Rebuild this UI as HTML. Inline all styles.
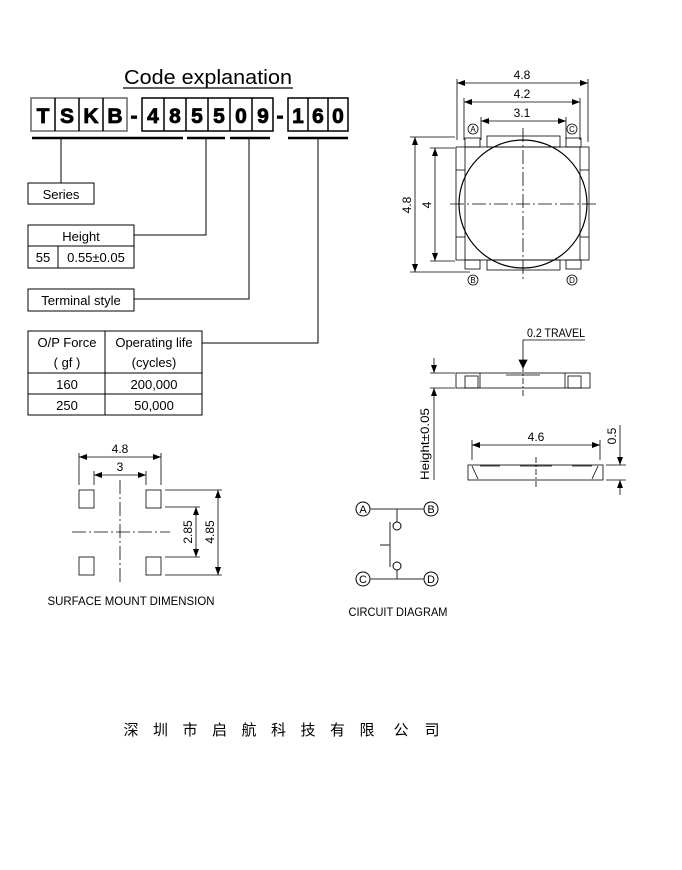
<!DOCTYPE html>
<html><head><meta charset="utf-8"><style>
html,body{margin:0;padding:0;background:#fff;}
svg{display:block;}
text{font-family:"Liberation Sans",sans-serif;fill:#000;}
.b{font-weight:900;font-family:"Liberation Sans",sans-serif;}
</style></head><body>
<svg width="682" height="870" viewBox="0 0 682 870" xmlns="http://www.w3.org/2000/svg">
<defs>
<marker id="ar" markerWidth="8" markerHeight="6" refX="8" refY="3" orient="auto-start-reverse" markerUnits="userSpaceOnUse"><path d="M0,0 L8,3 L0,6 z" fill="#000"/></marker>
</defs>
<text x="208" y="84" font-size="20" text-anchor="middle" textLength="168" lengthAdjust="spacingAndGlyphs">Code explanation</text>
<line x1="123" y1="88" x2="293" y2="88" stroke="#000" stroke-width="1.3"/>
<g stroke="#000" stroke-width="1.5" fill="none">
<rect x="31" y="98" width="96" height="33" stroke="#666"/>
<line x1="55" y1="98" x2="55" y2="131"/><line x1="79" y1="98" x2="79" y2="131"/><line x1="103" y1="98" x2="103" y2="131"/>
<rect x="142" y="98" width="131" height="33"/>
<line x1="164" y1="98" x2="164" y2="131"/><line x1="186" y1="98" x2="186" y2="131"/><line x1="208" y1="98" x2="208" y2="131"/><line x1="230" y1="98" x2="230" y2="131"/><line x1="252" y1="98" x2="252" y2="131"/>
<rect x="288" y="98" width="60" height="33"/>
<line x1="308" y1="98" x2="308" y2="131"/><line x1="328" y1="98" x2="328" y2="131"/>
</g>
<g class="b" font-size="21" text-anchor="middle" stroke="#000" stroke-width="0.8">
<text class="b" x="43" y="123">T</text><text class="b" x="67" y="123">S</text><text class="b" x="91" y="123">K</text><text class="b" x="115" y="123">B</text>
<text class="b" x="134" y="123">-</text>
<text class="b" x="153" y="123">4</text><text class="b" x="175" y="123">8</text><text class="b" x="197" y="123">5</text><text class="b" x="219" y="123">5</text><text class="b" x="241" y="123">0</text><text class="b" x="263" y="123">9</text>
<text class="b" x="280" y="123">-</text>
<text class="b" x="298" y="123">1</text><text class="b" x="318" y="123">6</text><text class="b" x="338" y="123">0</text>
</g>
<g stroke="#000" stroke-width="2.5">
<line x1="32" y1="138" x2="183" y2="138"/><line x1="187" y1="138" x2="225" y2="138"/><line x1="230" y1="138" x2="270" y2="138"/><line x1="288" y1="138" x2="348" y2="138"/>
</g>
<g stroke="#000" stroke-width="1" fill="none">
<polyline points="61,138 61,183"/>
<rect x="28" y="183" width="66" height="21"/>
<polyline points="206,138 206,235 134,235"/>
<rect x="28" y="225" width="106" height="43"/><line x1="28" y1="246" x2="134" y2="246"/><line x1="58" y1="246" x2="58" y2="268"/>
<polyline points="249,138 249,299 134,299"/>
<rect x="28" y="289" width="106" height="22"/>
<polyline points="318,138 318,343 202,343"/>
<rect x="28" y="331" width="174" height="84"/><line x1="105" y1="331" x2="105" y2="415"/><line x1="28" y1="373" x2="202" y2="373"/><line x1="28" y1="394" x2="202" y2="394"/>
</g>
<g font-size="13">
<text x="61" y="199" text-anchor="middle">Series</text>
<text x="81" y="241" text-anchor="middle">Height</text>
<text x="43" y="262" text-anchor="middle">55</text>
<text x="96" y="262" text-anchor="middle">0.55±0.05</text>
<text x="81" y="305" text-anchor="middle">Terminal style</text>
<text x="67" y="347" text-anchor="middle">O/P Force</text>
<text x="67" y="367" text-anchor="middle">( gf )</text>
<text x="154" y="347" text-anchor="middle">Operating life</text>
<text x="154" y="367" text-anchor="middle">(cycles)</text>
<text x="67" y="389" text-anchor="middle">160</text><text x="154" y="389" text-anchor="middle">200,000</text>
<text x="67" y="410" text-anchor="middle">250</text><text x="154" y="410" text-anchor="middle">50,000</text>
</g>
<g stroke="#000" stroke-width="0.8" fill="none">
<line x1="457" y1="79" x2="457" y2="140"/><line x1="588" y1="79" x2="588" y2="142"/>
<line x1="457" y1="83" x2="588" y2="83" marker-start="url(#ar)" marker-end="url(#ar)"/>
<line x1="464" y1="98" x2="464" y2="140"/><line x1="580" y1="98" x2="580" y2="140"/>
<line x1="464" y1="102" x2="580" y2="102" marker-start="url(#ar)" marker-end="url(#ar)"/>
<line x1="481" y1="117" x2="481" y2="140"/><line x1="566" y1="117" x2="566" y2="140"/>
<line x1="481" y1="121" x2="566" y2="121" marker-start="url(#ar)" marker-end="url(#ar)"/>
<line x1="410" y1="137" x2="455" y2="137"/><line x1="410" y1="272" x2="470" y2="272"/>
<line x1="415" y1="137" x2="415" y2="272" marker-start="url(#ar)" marker-end="url(#ar)"/>
<line x1="430" y1="148" x2="455" y2="148"/><line x1="430" y1="261" x2="455" y2="261"/>
<line x1="435" y1="148" x2="435" y2="261" marker-start="url(#ar)" marker-end="url(#ar)"/>
<circle cx="473" cy="129" r="5"/><circle cx="572" cy="129" r="5"/>
<circle cx="473" cy="280" r="5"/><circle cx="572" cy="280" r="5"/>
<rect x="456" y="147" width="133" height="113"/>
<rect x="465" y="138" width="15" height="9"/><rect x="566" y="138" width="15" height="9"/>
<rect x="465" y="260" width="15" height="9"/><rect x="566" y="260" width="15" height="9"/>
<rect x="487" y="136" width="73" height="11"/><rect x="487" y="260" width="73" height="10"/>
<line x1="465" y1="147" x2="465" y2="260"/><line x1="580" y1="147" x2="580" y2="260"/>
<line x1="456" y1="170" x2="465" y2="170"/><line x1="456" y1="237" x2="465" y2="237"/>
<line x1="580" y1="170" x2="589" y2="170"/><line x1="580" y1="237" x2="589" y2="237"/>
<circle cx="523" cy="204" r="64" stroke-width="1.2"/>
<line x1="523" y1="128" x2="523" y2="282" stroke-dasharray="14,3,2,3"/>
<line x1="450" y1="204" x2="596" y2="204" stroke-dasharray="14,3,2,3"/>
</g>
<g font-size="12" text-anchor="middle">
<text x="522" y="79">4.8</text><text x="522" y="98">4.2</text><text x="522" y="117">3.1</text>
<text font-size="8" x="473" y="132">A</text><text font-size="8" x="572" y="132">C</text>
<text font-size="8" x="473" y="283">B</text><text font-size="8" x="572" y="283">D</text>
<text transform="translate(411,205) rotate(-90)">4.8</text>
<text transform="translate(431,205) rotate(-90)">4</text>
</g>
<g stroke="#000" stroke-width="0.8" fill="none">
<polyline points="585,340 523,340 523,368"/>
<path d="M519,360 L523,368 L527,360 z" fill="#000"/>
<rect x="456" y="373" width="134" height="15"/>
<rect x="465" y="376" width="13" height="12"/><rect x="568" y="376" width="13" height="12"/>
<line x1="480" y1="373" x2="480" y2="388"/><line x1="565" y1="373" x2="565" y2="388"/>
<line x1="506" y1="375" x2="540" y2="375"/>
<line x1="523" y1="366" x2="523" y2="398" stroke-dasharray="6,2,2,2"/>
<line x1="430" y1="373" x2="455" y2="373"/><line x1="430" y1="388" x2="455" y2="388"/>
<line x1="434" y1="358" x2="434" y2="373" marker-end="url(#ar)"/>
<line x1="434" y1="480" x2="434" y2="388" marker-end="url(#ar)"/>
<line x1="472" y1="440" x2="472" y2="460"/><line x1="600" y1="440" x2="600" y2="460"/>
<line x1="472" y1="445" x2="600" y2="445" marker-start="url(#ar)" marker-end="url(#ar)"/>
<rect x="468" y="465" width="135" height="15"/>
<line x1="472" y1="466" x2="478" y2="479"/><line x1="598" y1="466" x2="592" y2="479"/>
<line x1="480" y1="466" x2="500" y2="466"/><line x1="572" y1="466" x2="592" y2="466"/>
<line x1="520" y1="466" x2="552" y2="466"/>
<line x1="536" y1="457" x2="536" y2="488" stroke-dasharray="6,2,2,2"/>
<line x1="606" y1="465" x2="626" y2="465"/><line x1="606" y1="480" x2="626" y2="480"/>
<line x1="620" y1="425" x2="620" y2="465" marker-end="url(#ar)"/>
<line x1="620" y1="495" x2="620" y2="480" marker-end="url(#ar)"/>
</g>
<g font-size="12">
<text x="527" y="337" textLength="58" lengthAdjust="spacingAndGlyphs">0.2  TRAVEL</text>
<text x="536" y="441" text-anchor="middle">4.6</text>
<text transform="translate(429,444) rotate(-90)" text-anchor="middle" textLength="72" lengthAdjust="spacingAndGlyphs">Height±0.05</text>
<text transform="translate(616,436) rotate(-90)" text-anchor="middle">0.5</text>
</g>
<g stroke="#000" stroke-width="0.8" fill="none">
<line x1="79" y1="453" x2="79" y2="485"/><line x1="161" y1="453" x2="161" y2="485"/>
<line x1="79" y1="457" x2="161" y2="457" marker-start="url(#ar)" marker-end="url(#ar)"/>
<line x1="94" y1="471" x2="94" y2="485"/><line x1="146" y1="471" x2="146" y2="485"/>
<line x1="94" y1="475" x2="146" y2="475" marker-start="url(#ar)" marker-end="url(#ar)"/>
<rect x="79" y="490" width="15" height="18"/><rect x="146" y="490" width="15" height="18"/>
<rect x="79" y="557" width="15" height="18"/><rect x="146" y="557" width="15" height="18"/>
<line x1="120" y1="480" x2="120" y2="585" stroke-dasharray="14,3,2,3"/>
<line x1="72" y1="532" x2="170" y2="532" stroke-dasharray="14,3,2,3"/>
<line x1="165" y1="490" x2="222" y2="490"/><line x1="165" y1="575" x2="222" y2="575"/>
<line x1="165" y1="507" x2="200" y2="507"/><line x1="165" y1="557" x2="200" y2="557"/>
<line x1="196" y1="507" x2="196" y2="557" marker-start="url(#ar)" marker-end="url(#ar)"/>
<line x1="218" y1="490" x2="218" y2="575" marker-start="url(#ar)" marker-end="url(#ar)"/>
</g>
<g font-size="12" text-anchor="middle">
<text x="120" y="453">4.8</text><text x="120" y="471">3</text>
<text transform="translate(192,532) rotate(-90)">2.85</text>
<text transform="translate(214,532) rotate(-90)">4.85</text>
<text x="131" y="605" textLength="167" lengthAdjust="spacingAndGlyphs">SURFACE  MOUNT  DIMENSION</text>
<text x="398" y="616" textLength="99" lengthAdjust="spacingAndGlyphs">CIRCUIT  DIAGRAM</text>
</g>
<g stroke="#000" stroke-width="1" fill="none">
<circle cx="363" cy="509" r="7"/><circle cx="431" cy="509" r="7"/>
<circle cx="363" cy="579" r="7"/><circle cx="431" cy="579" r="7"/>
<g stroke="#555" stroke-width="1.3">
<line x1="370" y1="509" x2="424" y2="509"/><line x1="370" y1="579" x2="424" y2="579"/>
<line x1="397" y1="509" x2="397" y2="522"/><line x1="397" y1="570" x2="397" y2="579"/>
<line x1="390" y1="522" x2="390" y2="567"/><line x1="380" y1="545" x2="390" y2="545"/>
</g>
<circle cx="397" cy="526" r="4"/><circle cx="397" cy="566" r="4"/>
</g>
<g font-size="11" text-anchor="middle">
<text x="363" y="513">A</text><text x="431" y="513">B</text><text x="363" y="583">C</text><text x="431" y="583">D</text>
</g>
<g font-size="15" text-anchor="middle" style="font-family:'Noto Sans CJK SC',sans-serif">
<text x="131" y="735">深</text><text x="160.5" y="735">圳</text><text x="190" y="735">市</text><text x="219.5" y="735">启</text><text x="249" y="735">航</text><text x="278.5" y="735">科</text><text x="308" y="735">技</text><text x="337.5" y="735">有</text><text x="367" y="735">限</text><text x="401" y="735">公</text><text x="432" y="735">司</text>
</g>
</svg>
</body></html>
